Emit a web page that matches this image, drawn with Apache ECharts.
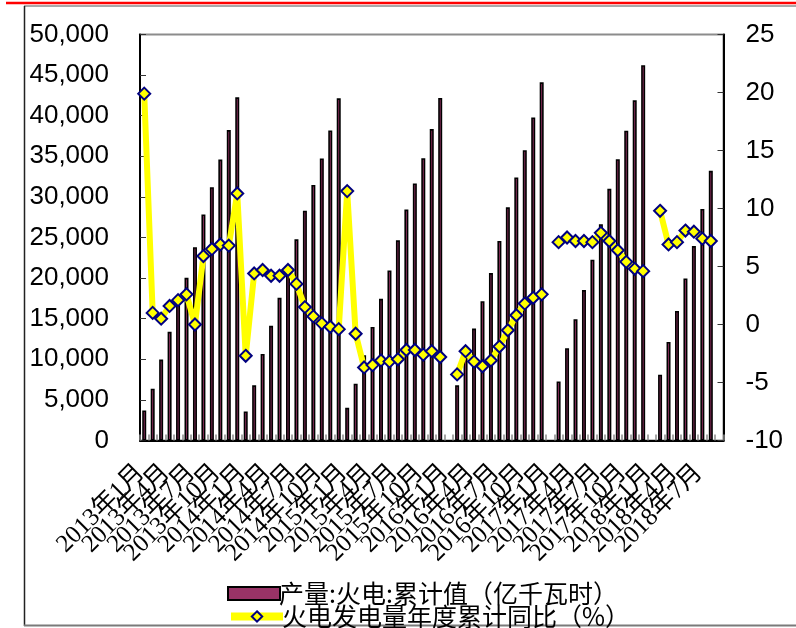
<!DOCTYPE html>
<html>
<head>
<meta charset="utf-8">
<script src="https://cdn.jsdelivr.net/npm/echarts@6/dist/echarts.min.js"></script>
<style>
  html, body { margin: 0; padding: 0; background: #fff; }
  #chart { width: 796px; height: 628px; }
</style>
</head>
<body>
<div id="chart"></div>
<script>
// Monthly categories, 2013-01 through 2018-09
const years = [2013, 2014, 2015, 2016, 2017, 2018];
const categories = [];
years.forEach(y => {
  for (let m = 1; m <= 12; m++) {
    if (y === 2018 && m > 9) break;
    categories.push(y + '年' + m + '月');
  }
});

// 产量:火电:累计值 (亿千瓦时)
const output2013 = [3700, 6380, 9960, 13380, 16900, 20040, 23800, 27840, 31200, 34600, 38230, 42260];
const output2014 = [3580, 6790, 10660, 14120, 17570, 20950, 24770, 28300, 31480, 34730, 38190, 42140];
const output2015 = [4030, 7000, 10490, 13990, 17450, 20950, 24650, 28440, 31650, 34770, 38350, 42180];
const output2016 = [null, 6790, 10380, 13790, 17160, 20620, 24570, 28720, 32390, 35760, 39790, 44110];
const output2017 = [null, 7280, 11360, 14940, 18520, 22260, 26630, 30990, 34650, 38150, 41890, 46210];
const output2018 = [null, 8110, 12140, 15960, 19960, 23950, 28520, 33210, null];

// 火电发电量年度累计同比 (%)
const yoy2013 = [19.9, 1.0, 0.5, 1.6, 2.1, 2.6, 0.0, 5.9, 6.5, 6.9, 6.8, 11.3];
const yoy2014 = [-2.7, 4.4, 4.7, 4.2, 4.2, 4.7, 3.5, 1.5, 0.7, 0.1, -0.2, -0.4];
const yoy2015 = [11.5, -0.8, -3.7, -3.5, -3.1, -3.2, -3.0, -2.2, -2.2, -2.6, -2.3, -2.8];
const yoy2016 = [null, -4.3, -2.3, -3.2, -3.6, -3.1, -1.9, -0.5, 0.8, 1.8, 2.3, 2.6];
const yoy2017 = [null, 7.1, 7.5, 7.2, 7.2, 7.1, 7.9, 7.2, 6.4, 5.4, 4.8, 4.6];
const yoy2018 = [null, 9.8, 6.9, 7.1, 8.1, 8.0, 7.4, 7.2, null];

const outputValues = [].concat(output2013, output2014, output2015, output2016, output2017, output2018);
const yoyValues = [].concat(yoy2013, yoy2014, yoy2015, yoy2016, yoy2017, yoy2018);

const barName = '产量:火电:累计值（亿千瓦时）';
const lineName = '火电发电量年度累计同比（%）';

// every third month carries a label
const LABEL_STEP = 3;

const chart = echarts.init(document.getElementById('chart'), null, { renderer: 'canvas' });

const axisFont = 'Liberation Sans, Arial, sans-serif';
const cjkFont = 'Noto Sans CJK SC, sans-serif';

const legendBase = {
  orient: 'vertical',
  left: 222,
  itemWidth: 52, itemHeight: 13,
  textStyle: { fontFamily: cjkFont, fontSize: 25, color: '#000', padding: [0, 0, 0, -6] }
};

chart.setOption({
  animation: false,
  backgroundColor: '#fff',
  grid: {
    left: 140, right: 72.5, top: 34.5, bottom: 187.5,
    show: true, borderColor: '#8c8c8c', borderWidth: 2, backgroundColor: 'transparent'
  },
  graphic: [
    { type: 'line', shape: { x1: 6, y1: 3, x2: 796, y2: 3 }, style: { stroke: '#ff0000', lineWidth: 2.5 } },
    { type: 'line', shape: { x1: 24, y1: 6, x2: 796, y2: 6 }, style: { stroke: '#8c8c8c', lineWidth: 1.5 } },
    { type: 'line', shape: { x1: 24.5, y1: 6, x2: 24.5, y2: 626 }, style: { stroke: '#222', lineWidth: 1.5 } },
    { type: 'line', shape: { x1: 24, y1: 625.5, x2: 796, y2: 625.5 }, style: { stroke: '#7a7a7a', lineWidth: 2 } }
  ],
  legend: [
    Object.assign({}, legendBase, {
      top: 576,
      data: [{ name: barName, icon: 'rect', itemStyle: { color: '#993366', borderColor: '#000', borderWidth: 2 } }]
    }),
    Object.assign({}, legendBase, {
      top: 599,
      data: [{
        name: lineName,
        lineStyle: { color: '#ffff00', width: 8 },
        itemStyle: { color: '#ffff00', borderColor: '#000080', borderWidth: 2 }
      }]
    })
  ],
  xAxis: {
    type: 'category',
    data: categories,
    boundaryGap: true,
    axisLine: { lineStyle: { color: '#000', width: 2 } },
    axisTick: { show: true, inside: true, length: 6, interval: 0, lineStyle: { color: '#8a8a8a', width: 1.5 } },
    axisLabel: {
      interval: 0, rotate: 45, margin: 25, padding: [0, 5, 0, 0],
      fontFamily: 'Liberation Serif, Noto Sans CJK SC, serif', fontSize: 25, color: '#000',
      formatter: (value, index) => (index % LABEL_STEP === 0 ? value : '')
    },
    splitLine: { show: false }
  },
  yAxis: [
    {
      type: 'value', min: 0, max: 50000, interval: 5000, position: 'left',
      axisLine: { show: true, lineStyle: { color: '#000', width: 2 } },
      axisTick: { show: true, inside: true, length: 6, lineStyle: { color: '#333' } },
      axisLabel: {
        margin: 31, fontFamily: axisFont, fontSize: 26, color: '#000',
        formatter: v => v.toString().replace(/\B(?=(\d{3})+(?!\d))/g, ',')
      },
      splitLine: { show: false }
    },
    {
      type: 'value', min: -10, max: 25, interval: 5, position: 'right',
      axisLine: { show: true, lineStyle: { color: '#000', width: 2 } },
      axisTick: { show: true, inside: true, length: 6, lineStyle: { color: '#333' } },
      axisLabel: { margin: 22, fontFamily: axisFont, fontSize: 26, color: '#000' },
      splitLine: { show: false }
    }
  ],
  series: [
    {
      name: barName,
      type: 'bar',
      yAxisIndex: 0,
      data: outputValues,
      barWidth: 4,
      itemStyle: { color: '#993366', borderColor: '#000', borderWidth: 1.6 },
      z: 2
    },
    {
      name: lineName,
      type: 'line',
      yAxisIndex: 1,
      data: yoyValues,
      connectNulls: false,
      symbol: 'diamond',
      symbolSize: 12,
      showAllSymbol: true,
      lineStyle: { color: '#ffff00', width: 6 },
      itemStyle: { color: '#ffff00', borderColor: '#000080', borderWidth: 2 },
      z: 3
    }
  ]
});
</script>
</body>
</html>
